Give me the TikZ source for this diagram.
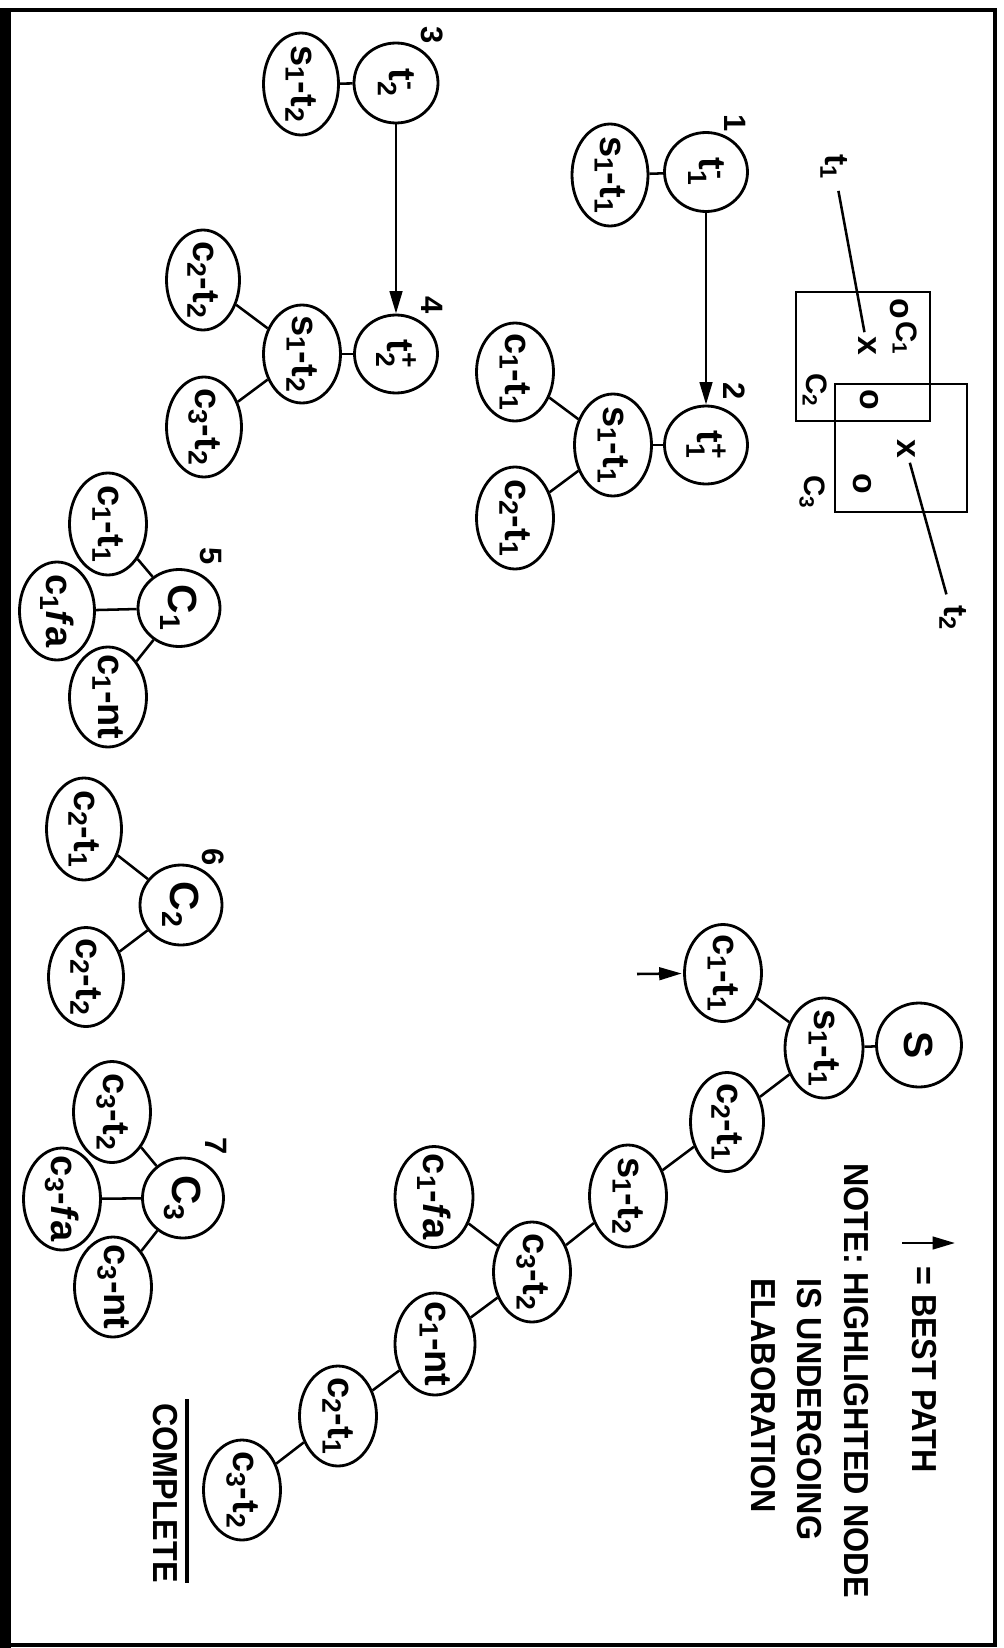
\documentclass[tikz,border=0pt]{standalone}
\usepackage{fontspec}
\setmainfont{Liberation Sans}
\newfontfamily\condfont[FakeStretch=0.93]{Liberation Sans}
\usepackage{amsmath}
\usetikzlibrary{shapes.geometric,arrows.meta}
\newcommand\subl[1]{\ensuremath{_{\text{#1}}}}
\newcommand\supsubl[2]{\ensuremath{^{\text{#1}}_{\text{#2}}}}
\newcommand\ctr[1]{\makebox[0pt]{#1}}
\tikzset{
  nd/.style={draw, ellipse, line width=2pt, rotate=-90, inner sep=0pt,
    font=\bfseries\fontsize{27}{30}\selectfont},
  wh/.style 2 args={minimum height=#1*0.025cm, minimum width=#2*0.025cm},
  big/.style={font=\bfseries\fontsize{29}{32}\selectfont},
  conn/.style={line width=1.8pt},
  arr/.style={line width=1.8pt, -{Triangle[length=16pt,width=9pt]}},
  num/.style={rotate=-90, inner sep=0pt, font=\bfseries\fontsize{22}{24}\selectfont},
  xmark/.style={rotate=-90, inner sep=0pt, font=\bfseries\fontsize{24}{26}\selectfont},
  boxlab/.style={rotate=-90, inner sep=0pt, font=\bfseries\fontsize{21}{23}\selectfont},
  note/.style={rotate=-90, anchor=base west, inner sep=0pt,
    font=\condfont\bfseries\fontsize{24.7}{28}\selectfont},
  boxline/.style={line width=1.4pt},
}
\begin{document}
\begin{tikzpicture}[x=0.025cm, y=-0.025cm]
\useasboundingbox (0,0) rectangle (1004,1648);
% frame
\draw[line width=2.8pt] (5,10) rectangle (995,1645);
\fill (0,8) rectangle (11,1648);

% ---------- group 1-2 ----------
\node[nd, wh={83}{79}] (t1m) at (706,172) {\ctr{t\supsubl{-}{1}}};
\node[nd, wh={76}{102}] (s1t1a) at (610,175) {\ctr{s\subl{1}-t\subl{1}}};
\node[num] (n1) at (735,123) {1};
\node[nd, wh={83}{78}] (t1p) at (706,445) {\ctr{t\supsubl{+}{1}}};
\node[num] (n2) at (734,391) {2};
\node[nd, wh={77}{102}] (s1t1b) at (613,445) {\ctr{s\subl{1}-t\subl{1}}};
\node[nd, wh={77}{98}] (c1t1a) at (515,372) {\ctr{c\subl{1}-t\subl{1}}};
\node[nd, wh={77}{102}] (c2t1a) at (515,518) {\ctr{c\subl{2}-t\subl{1}}};
\draw[conn] (s1t1a) -- (t1m);
\draw[arr] (t1m) -- (t1p);
\draw[conn] (s1t1b) -- (t1p);
\draw[conn] (s1t1b) -- (c1t1a);
\draw[conn] (s1t1b) -- (c2t1a);

% ---------- group 3-4 ----------
\node[nd, wh={84}{80}] (t2m) at (396,83) {\ctr{t\supsubl{-}{2}}};
\node[nd, wh={75}{102}] (s1t2a) at (301,84) {\ctr{s\subl{1}-t\subl{2}}};
\node[num] (n3) at (432,35) {3};
\node[nd, wh={83}{78}] (t2p) at (396,354) {\ctr{t\supsubl{+}{2}}};
\node[num] (n4) at (432,305) {4};
\node[nd, wh={77}{98}] (s1t2b) at (302,354) {\ctr{s\subl{1}-t\subl{2}}};
\node[nd, wh={73}{100}] (c2t2a) at (203,280) {\ctr{c\subl{2}-t\subl{2}}};
\node[nd, wh={75}{100}] (c3t2a) at (204,427) {\ctr{c\subl{3}-t\subl{2}}};
\draw[conn] (s1t2a) -- (t2m);
\draw[arr] (t2m) -- (t2p);
\draw[conn] (s1t2b) -- (t2p);
\draw[conn] (s1t2b) -- (c2t2a);
\draw[conn] (s1t2b) -- (c3t2a);

% ---------- box diagram ----------
\draw[boxline] (796,292) rectangle (930,421);
\draw[boxline] (835,384) rectangle (967,512);
\node[xmark] (oa) at (899,309) {o};
\node[boxlab] (lc1) at (905,338) {C\subl{1}};
\node[xmark] (xa) at (867,346) {x};
\node[boxlab] (lc2) at (815,390) {C\subl{2}};
\node[xmark] (ob) at (869,400) {o};
\node[xmark] (xb) at (906,449) {x};
\node[xmark] (oc) at (862,484) {o};
\node[boxlab] (lc3) at (812,492) {C\subl{3}};
\node[xmark] (lt1) at (834,167) {t\subl{1}};
\node[xmark] (lt2) at (953,618) {t\subl{2}};
\draw[conn, shorten <=8pt, shorten >=3pt] (lt1) -- (xa);
\draw[conn, shorten <=3pt, shorten >=8pt] (xb) -- (lt2);

% ---------- group 5 ----------
\node[nd, big, wh={82}{77}] (C1) at (179,608) {\ctr{C\subl{1}}};
\node[num] (n5) at (211,556) {5};
\node[nd, wh={77}{102}] (c1t1b) at (108,524) {\ctr{c\subl{1}-t\subl{1}}};
\node[nd, wh={75}{98}] (c1fa) at (57,611) {\ctr{c\subl{1}\textit{f}a}};
\node[nd, wh={77}{100}] (c1nt) at (108,697) {\ctr{c\subl{1}-nt}};
\draw[conn] (C1) -- (c1t1b);
\draw[conn] (C1) -- (c1fa);
\draw[conn] (C1) -- (c1nt);

% ---------- group 6 ----------
\node[nd, big, wh={82}{80}] (C2) at (181,905) {\ctr{C\subl{2}}};
\node[num] (n6) at (213,857) {6};
\node[nd, wh={75}{102}] (c2t1b) at (84,829) {\ctr{c\subl{2}-t\subl{1}}};
\node[nd, wh={75}{99}] (c2t2b) at (86,977) {\ctr{c\subl{2}-t\subl{2}}};
\draw[conn] (C2) -- (c2t1b);
\draw[conn] (C2) -- (c2t2b);

% ---------- group 7 ----------
\node[nd, big, wh={81}{80}] (C3) at (183,1198) {\ctr{C\subl{3}}};
\node[num] (n7) at (216,1146) {7};
\node[nd, wh={77}{101}] (c3t2b) at (112,1112) {\ctr{c\subl{3}-t\subl{2}}};
\node[nd, wh={77}{102}] (c3fa) at (62,1199) {\ctr{c\subl{3}-\textit{f}a}};
\node[nd, wh={77}{100}] (c3nt) at (113,1287) {\ctr{c\subl{3}-nt}};
\draw[conn] (C3) -- (c3t2b);
\draw[conn] (C3) -- (c3fa);
\draw[conn] (C3) -- (c3nt);

% ---------- main search path ----------
\node[nd, big, wh={85}{84}] (S) at (919,1045) {\ctr{S}};
\node[nd, wh={78}{100}] (m1) at (824,1048) {\ctr{s\subl{1}-t\subl{1}}};
\node[nd, wh={77}{97}] (m2) at (723,973) {\ctr{c\subl{1}-t\subl{1}}};
\node[nd, wh={73}{99}] (m3) at (727,1122) {\ctr{c\subl{2}-t\subl{1}}};
\node[nd, wh={77}{102}] (m4) at (628,1196) {\ctr{s\subl{1}-t\subl{2}}};
\node[nd, wh={77}{100}] (m5) at (532,1272) {\ctr{c\subl{3}-t\subl{2}}};
\node[nd, wh={78}{101}] (m6) at (434,1197) {\ctr{c\subl{1}-\textit{f}a}};
\node[nd, wh={80}{102}] (m7) at (435,1344) {\ctr{c\subl{1}-nt}};
\node[nd, wh={77}{100}] (m8) at (338,1416) {\ctr{c\subl{2}-t\subl{1}}};
\node[nd, wh={77}{100}] (m9) at (242,1490) {\ctr{c\subl{3}-t\subl{2}}};
\draw[conn] (S) -- (m1);
\draw[conn] (m1) -- (m2);
\draw[conn] (m1) -- (m3);
\draw[conn] (m3) -- (m4);
\draw[conn] (m4) -- (m5);
\draw[conn] (m5) -- (m6);
\draw[conn] (m5) -- (m7);
\draw[conn] (m7) -- (m8);
\draw[conn] (m8) -- (m9);
\coordinate (bp) at (637,974);
\draw[arr, shorten >=1pt] (bp) -- (m2);

% ---------- legend ----------
\coordinate (lgA) at (902,1243);
\coordinate (lgB) at (955,1243);
\draw[arr] (lgA) -- (lgB);
\node[note] (lg1) at (912,1266) {= BEST PATH};
\node[note] (lg2) at (844,1163) {NOTE: HIGHLIGHTED NODE};
\node[note] (lg3) at (797,1278) {IS UNDERGOING};
\node[note] (lg4) at (751,1278) {ELABORATION};
\node[note] (cpl) at (153,1403) {COMPLETE};
\coordinate (ovA) at (187,1399);
\coordinate (ovB) at (187,1583);
\draw[line width=2.5pt] (ovA) -- (ovB);
\end{tikzpicture}
\end{document}
